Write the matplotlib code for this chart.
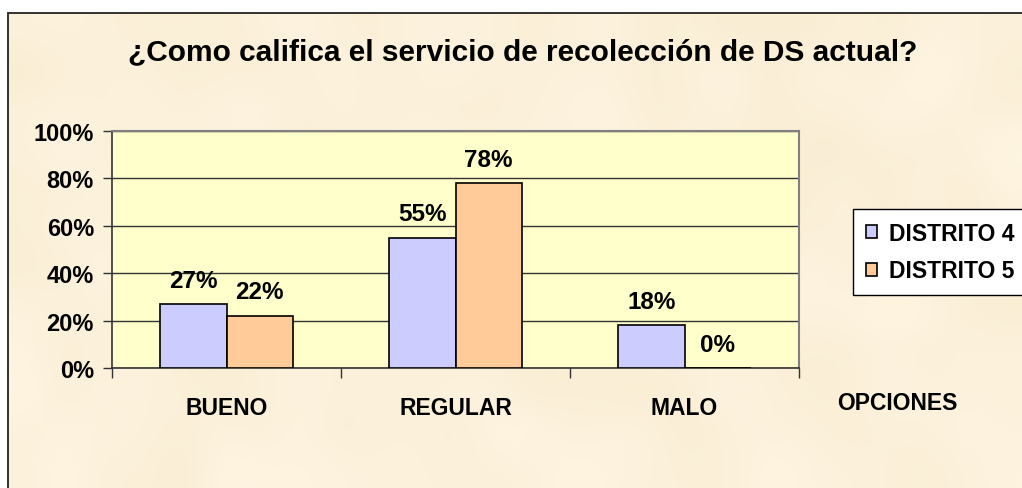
import numpy as np
import matplotlib.pyplot as plt
from matplotlib.patches import Rectangle
from matplotlib.ticker import FixedLocator, NullFormatter

plt.rcParams['font.family'] = ['Liberation Sans', 'DejaVu Sans']
plt.rcParams['font.weight'] = 'bold'

# Survey results
categorias = ['BUENO', 'REGULAR', 'MALO']
distrito_4 = [27, 55, 18]
distrito_5 = [22, 78, 0]
series = ['DISTRITO 4', 'DISTRITO 5']
titulo = '¿Como califica el servicio de recolección de DS actual?'
eje_x = 'OPCIONES'

W, H = 1022, 489
fig = plt.figure(figsize=(W / 100, H / 100), dpi=100, facecolor='white')

# parchment-like backdrop with a framed border
bg = fig.add_axes([0, 0, 1, 1], zorder=-5)
bg.set_xlim(0, 1)
bg.set_ylim(0, 1)
bg.axis('off')
rng = np.random.default_rng(7)
coarse = rng.normal(size=(12, 26))
tex = np.clip(coarse, -2, 2) / 2
base = np.array([252, 241, 219]) / 255
amp = np.array([3, 5, 9]) / 255
img = base[None, None, :] + tex[:, :, None] * amp[None, None, :]
x0, y1 = 8 / W, 1 - 14 / H
bg.imshow(np.clip(img, 0, 1), extent=(x0, 1, 0, y1), aspect='auto',
          interpolation='bicubic', zorder=0)
bg.add_patch(Rectangle((x0, -0.01), 1.1, y1 + 0.01, fill=False,
                       edgecolor='#222222', lw=1.3, zorder=1))

ax = fig.add_axes([112 / W, 1 - 369 / H, (799 - 112) / W, (369 - 132) / H])
ax.set_facecolor('#FFFFCC')

x = np.arange(len(categorias))
w = 0.29
b4 = ax.bar(x - w / 2, distrito_4, w, color='#CCCCFF', edgecolor='black',
            linewidth=1.2, label=series[0], zorder=3)
b5 = ax.bar(x + w / 2, distrito_5, w, color='#FFCC99', edgecolor='black',
            linewidth=1.2, label=series[1], zorder=3)

for bars, vals in ((b4, distrito_4), (b5, distrito_5)):
    for r, v in zip(bars, vals):
        ax.annotate(f'{v}%', (r.get_x() + r.get_width() / 2, v),
                    xytext=(0, 12.5), textcoords='offset points',
                    ha='center', va='baseline', fontsize=17.5,
                    fontweight='bold')

ax.set_xlim(-0.5, 2.5)
ax.set_ylim(0, 100)
ax.set_yticks(range(0, 101, 20))
ax.set_yticklabels([f'{v}%' for v in range(0, 101, 20)])
ax.yaxis.grid(True, color='#333333', lw=1)
ax.set_axisbelow(True)

ax.set_xticks(x)
ax.set_xticklabels(categorias)
ax.xaxis.set_minor_locator(FixedLocator([-0.5, 0.5, 1.5, 2.5]))
ax.xaxis.set_minor_formatter(NullFormatter())
ax.tick_params(axis='x', which='major', length=0, pad=20, labelsize=16.5)
ax.tick_params(axis='x', which='minor', length=7, width=1, color='#333333')
ax.tick_params(axis='y', length=6.5, width=1, color='#333333', pad=6.5,
               labelsize=17)

for s in ('left', 'bottom'):
    ax.spines[s].set_color('#333333')
    ax.spines[s].set_linewidth(1.2)
for s in ('top', 'right'):
    ax.spines[s].set_color('#808080')
    ax.spines[s].set_linewidth(1.5)

fig.text(523 / W, 1 - 52 / H, titulo, ha='center', va='center',
         fontsize=21.5, fontweight='bold')
fig.text(897 / W, 1 - 404 / H, eje_x, ha='center', va='center',
         fontsize=16.5, fontweight='bold')

leg = ax.legend(loc='upper left', bbox_to_anchor=(853 / W, 1 - 210 / H),
                bbox_transform=fig.transFigure, borderaxespad=0,
                fontsize=16.5, handlelength=0.5, handleheight=0.5,
                handletextpad=0.5, labelspacing=0.65, borderpad=0.55,
                fancybox=False, framealpha=1, edgecolor='black',
                facecolor='white')
leg.get_frame().set_linewidth(1)
for t in leg.get_texts():
    t.set_fontweight('bold')

fig.savefig('out.png', dpi=100)
